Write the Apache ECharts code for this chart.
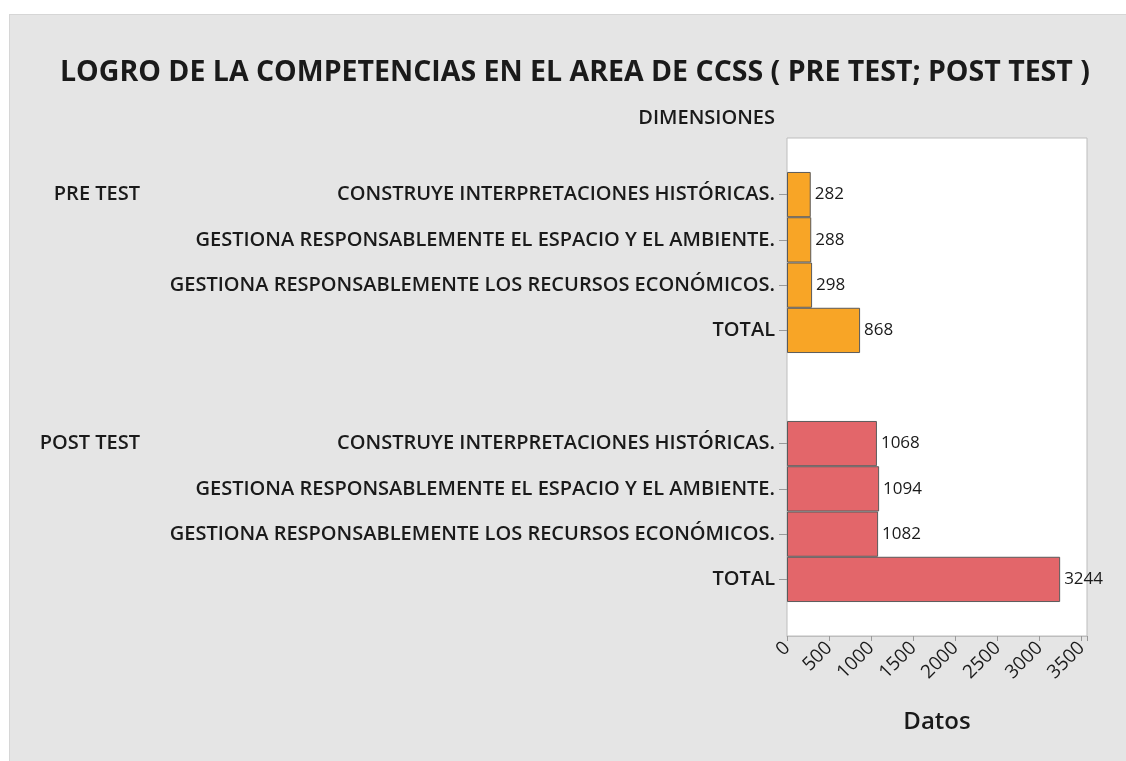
<!DOCTYPE html>
<html>
<head>
<meta charset="utf-8">
<script src="https://cdn.jsdelivr.net/npm/echarts@6/dist/echarts.min.js"></script>
<style>
  html, body { margin: 0; padding: 0; background: #fff; }
  .panel {
    position: absolute; left: 9px; top: 14px; right: 0; bottom: 0;
    background: #e5e5e5; border-top: 1px solid #d6d6d6; border-left: 1px solid #d6d6d6;
  }
  #main { position: absolute; left: 0; top: 0; width: 1126px; height: 761px; }
</style>
</head>
<body>
<div class="panel"></div>
<div id="main"></div>
<script>
// datos
const groups = ['PRE TEST', 'POST TEST'];
const dimensions = [
  'CONSTRUYE INTERPRETACIONES HISTÓRICAS.',
  'GESTIONA RESPONSABLEMENTE EL ESPACIO Y EL AMBIENTE.',
  'GESTIONA RESPONSABLEMENTE LOS RECURSOS ECONÓMICOS.',
  'TOTAL'
];
const preValues = [282, 288, 298, 868];
const postValues = [1068, 1094, 1082, 3244];
const xTicks = [0, 500, 1000, 1500, 2000, 2500, 3000, 3500];

const FONT = '"Open Sans", "Noto Sans", sans-serif';
const TEXT = '#1a1a1a';
const X_MAX = 3563;

// area del grafico (px)
const plot = { left: 787, top: 138, width: 300, height: 498 };
const band = plot.height / 11;

const chart = echarts.init(document.getElementById('main'));

const hiddenX = (grid) => ({
  type: 'value', gridIndex: grid, min: 0, max: X_MAX, show: false
});

const dimAxis = (grid) => ({
  type: 'category',
  gridIndex: grid,
  inverse: true,
  data: dimensions,
  axisLine: { show: false },
  axisTick: { show: true, length: 8, alignWithLabel: true, lineStyle: { color: '#9a9a9a' } },
  axisLabel: {
    margin: 12, color: TEXT, fontFamily: FONT, fontSize: 20, fontWeight: 600
  },
  splitLine: { show: false }
});

const groupAxis = (grid, name) => ({
  type: 'category',
  gridIndex: grid,
  inverse: true,
  position: 'left',
  offset: plot.left - 140,
  data: dimensions,
  axisLine: { show: false },
  axisTick: { show: false },
  axisLabel: {
    margin: 0, color: TEXT, fontFamily: FONT, fontSize: 20, fontWeight: 600,
    formatter: (v, i) => (i === 0 ? name : '')
  }
});

const barSeries = (xIdx, yIdx, data, color) => ({
  type: 'bar',
  xAxisIndex: xIdx,
  yAxisIndex: yIdx,
  data: data,
  barWidth: '100%',
  itemStyle: { color: color, borderColor: '#5a5a5a', borderWidth: 1 },
  label: {
    show: true, position: 'right', distance: 4,
    color: TEXT, fontFamily: FONT, fontSize: 17
  },
  silent: true
});

const option = {
  animation: false,
  textStyle: { fontFamily: FONT },
  title: [
    {
      text: 'LOGRO DE LA COMPETENCIAS EN EL AREA DE CCSS ( PRE TEST; POST TEST )',
      left: 60, top: 58, padding: 0,
      textStyle: { color: TEXT, fontFamily: FONT, fontSize: 28.5, fontWeight: 700 }
    },
    {
      text: 'DIMENSIONES',
      right: 1126 - 775, top: 108, padding: 0,
      textStyle: { color: TEXT, fontFamily: FONT, fontSize: 20, fontWeight: 600 }
    }
  ],
  grid: [
    {
      left: plot.left, top: plot.top, width: plot.width, height: plot.height,
      show: true, backgroundColor: '#ffffff', borderColor: '#bdbdbd', borderWidth: 1
    },
    { left: plot.left, top: plot.top + 0.75 * band, width: plot.width, height: 4 * band },
    { left: plot.left, top: plot.top + 6.25 * band, width: plot.width, height: 4 * band }
  ],
  xAxis: [
    {
      type: 'value',
      gridIndex: 0,
      min: 0,
      max: X_MAX,
      interval: 500,
      name: 'Datos',
      nameLocation: 'middle',
      nameGap: 74,
      nameTextStyle: { color: TEXT, fontFamily: FONT, fontSize: 24, fontWeight: 600 },
      axisLine: { show: true, lineStyle: { color: '#bdbdbd' } },
      axisTick: { show: true, length: 5, lineStyle: { color: '#9a9a9a' } },
      axisLabel: {
        rotate: 45, margin: 9, color: TEXT, fontFamily: FONT, fontSize: 19, fontWeight: 500,
        formatter: (v) => (xTicks.indexOf(v) >= 0 ? String(v) : '')
      },
      splitLine: { show: false }
    },
    hiddenX(1),
    hiddenX(2)
  ],
  yAxis: [
    dimAxis(1),
    dimAxis(2),
    { type: 'value', gridIndex: 0, show: false },
    groupAxis(1, groups[0]),
    groupAxis(2, groups[1])
  ],
  series: [
    barSeries(1, 0, preValues, '#f8a526'),
    barSeries(2, 1, postValues, '#e3666a')
  ]
};

chart.setOption(option);
window.addEventListener('resize', () => chart.resize());
</script>
</body>
</html>
